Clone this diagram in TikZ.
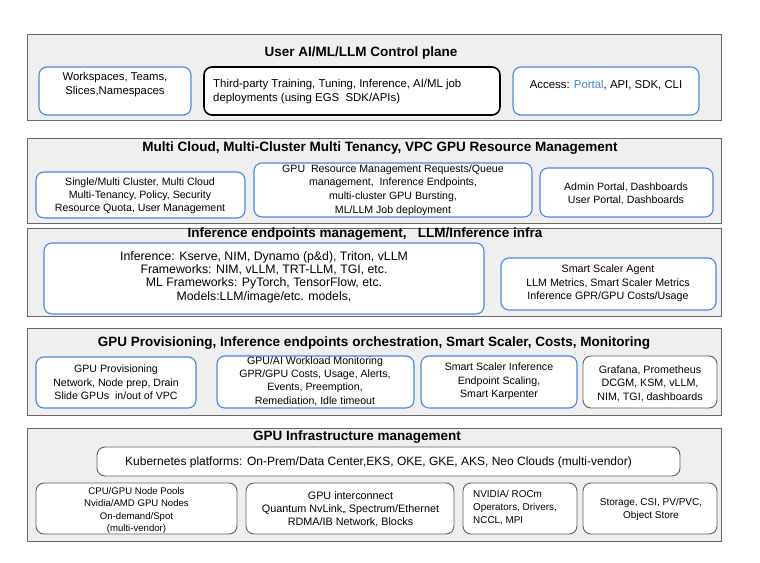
\documentclass[tikz,border=0pt]{standalone}
\usepackage{fontspec}
\setmainfont{Liberation Sans}
\usetikzlibrary{fit}
\definecolor{layerfill}{HTML}{EFEFEF}
\definecolor{layerdraw}{HTML}{666666}
\definecolor{blueb}{HTML}{4A86E8}
\definecolor{grayb}{HTML}{5F5F5F}
\definecolor{portal}{HTML}{3D85C6}
\newcommand{\fs}[2]{\fontsize{#1}{#2}\selectfont}
\begin{document}
\begin{tikzpicture}[x=1pt,y=-1pt,
  layer/.style={draw=layerdraw,fill=layerfill,line width=0.9pt,inner sep=0pt},
  bbox/.style={draw=blueb,fill=white,rounded corners=8pt,line width=1.1pt,inner sep=0pt},
  kbox/.style={draw=black,fill=white,rounded corners=8pt,line width=1.6pt,inner sep=0pt},
  gbox/.style={draw=grayb,fill=white,rounded corners=8pt,line width=0.9pt,inner sep=0pt},
  ttl/.style={font=\bfseries\fs{13.5}{15},inner sep=0pt},
  txt/.style={align=center,inner sep=0pt}]
\useasboundingbox (0,0) rectangle (760,562);
\fill[white] (0,0) rectangle (760,562);

% Layer 1
\node[layer,fit={(27,34)(721,120)}] (L1) {};
\node[ttl] (T1) at (361,53) {User AI/ML/LLM Control plane};
\node[bbox,fit={(39,67)(191,115)}] (B11) {};
\node[kbox,fit={(204,67)(500,115)}] (B12) {};
\node[bbox,fit={(513,67)(699,115)}] (B13) {};
\node[txt,font=\fs{11.3}{14}] (X11) at (115,84.5) {Workspaces, Teams,\\Slices,Namespaces};
\node[txt,font=\fs{11.4}{14},align=left,anchor=west] (X12) at (213,92) {Third-party Training, Tuning, Inference, AI/ML job\\deployments (using EGS\ \ SDK/APIs)};
\node[txt,font=\fs{11.4}{14}] (X13) at (606,85) {Access: \textcolor{portal}{Portal}, API, SDK, CLI};

% Layer 2
\node[layer,fit={(27,138)(721,223)}] (L2) {};
\node[ttl] (T2) at (380,148) {Multi Cloud, Multi-Cluster Multi Tenancy, VPC GPU Resource Management};
\node[bbox,fit={(36,172)(245,218)}] (B21) {};
\node[bbox,fit={(254,163)(532,217)}] (B22) {};
\node[bbox,fit={(540,168)(713,217)}] (B23) {};
\node[txt,font=\fs{10.6}{13}] (X21) at (140,196) {Single/Multi Cluster, Multi Cloud\\Multi-Tenancy, Policy, Security\\Resource Quota, User Management};
\node[txt,font=\fs{10.6}{13.6}] (X22) at (393,190) {GPU\ \ Resource Management Requests/Queue\\management,\ \ Inference Endpoints,\\multi-cluster GPU Bursting,\\ML/LLM Job deployment};
\node[txt,font=\fs{10.6}{13}] (X23) at (626,193.5) {Admin Portal, Dashboards\\User Portal, Dashboards};

% Layer 3
\node[layer,fit={(27,228)(721,316)}] (L3) {};
\node[ttl] (T3) at (365,234.5) {Inference endpoints management,\ \ \ LLM/Inference infra};
\node[bbox,fit={(44,243)(484,314)}] (B31) {};
\node[bbox,fit={(501,258)(716,310)}] (B32) {};
\node[txt,font=\fs{12.3}{13.4}] (X31) at (264,277) {Inference: Kserve, NIM, Dynamo (p\&d), Triton, vLLM\\Frameworks: NIM, vLLM, TRT-LLM, TGI, etc.\\ML Frameworks: PyTorch, TensorFlow, etc.\\Models:LLM/image/etc. models,};
\node[txt,font=\fs{10.7}{13.5}] (X32) at (608,283.5) {Smart Scaler Agent\\LLM Metrics, Smart Scaler Metrics\\Inference GPR/GPU Costs/Usage};

% Layer 4
\node[layer,fit={(27,328)(721,415)}] (L4) {};
\node[ttl] (T4) at (374,343) {GPU Provisioning, Inference endpoints orchestration, Smart Scaler, Costs, Monitoring};
\node[bbox,fit={(36,357)(196,408)}] (B41) {};
\node[bbox,fit={(217,356)(414,408)}] (B42) {};
\node[bbox,fit={(421,356)(577,408)}] (B43) {};
\node[gbox,fit={(583,356)(717,408)}] (B44) {};
\node[txt,font=\fs{10.6}{13.5}] (X41) at (116,382.5) {GPU Provisioning\\Network, Node prep, Drain\\Slide GPUs\ \ in/out of VPC};
\node[txt,font=\fs{10.6}{13.3}] (X42) at (315,381) {GPU/AI Workload Monitoring\\GPR/GPU Costs, Usage, Alerts,\\Events, Preemption,\\Remediation, Idle timeout};
\node[txt,font=\fs{10.6}{13.5}] (X43) at (499,381.5) {Smart Scaler Inference\\Endpoint Scaling,\\Smart Karpenter};
\node[txt,font=\fs{10.7}{13.5}] (X44) at (650,383.5) {Grafana, Prometheus\\DCGM, KSM, vLLM,\\NIM, TGI, dashboards};

% Layer 5
\node[layer,fit={(27,428)(721,541)}] (L5) {};
\node[ttl] (T5) at (357,437.5) {GPU Infrastructure management};
\node[gbox,fit={(97,447)(680,476)}] (B51) {};
\node[txt,font=\fs{12}{14}] (X51) at (378.5,462) {Kubernetes platforms: On-Prem/Data Center,EKS, OKE, GKE, AKS, Neo Clouds (multi-vendor)};
\node[gbox,fit={(36,483)(237,534)}] (B52) {};
\node[gbox,fit={(246,483)(454,534)}] (B53) {};
\node[gbox,fit={(463,483)(577,534)}] (B54) {};
\node[gbox,fit={(583,483)(717,534)}] (B55) {};
\node[txt,font=\fs{9.6}{12.5}] (X52) at (136.5,510.5) {CPU/GPU Node Pools\\Nvidia/AMD GPU Nodes\\On-demand/Spot\\(multi-vendor)};
\node[txt,font=\fs{10.8}{13}] (X53) at (350.5,509) {GPU interconnect\\Quantum NvLink,, Spectrum/Ethernet\\RDMA/IB Network, Blocks};
\node[txt,font=\fs{9.9}{13},align=left,anchor=west] (X54) at (473,508) {NVIDIA/ ROCm\\Operators, Drivers,\\NCCL, MPI};
\node[txt,font=\fs{10}{13}] (X55) at (651,509.5) {Storage, CSI, PV/PVC,\\Object Store};
\end{tikzpicture}
\end{document}
